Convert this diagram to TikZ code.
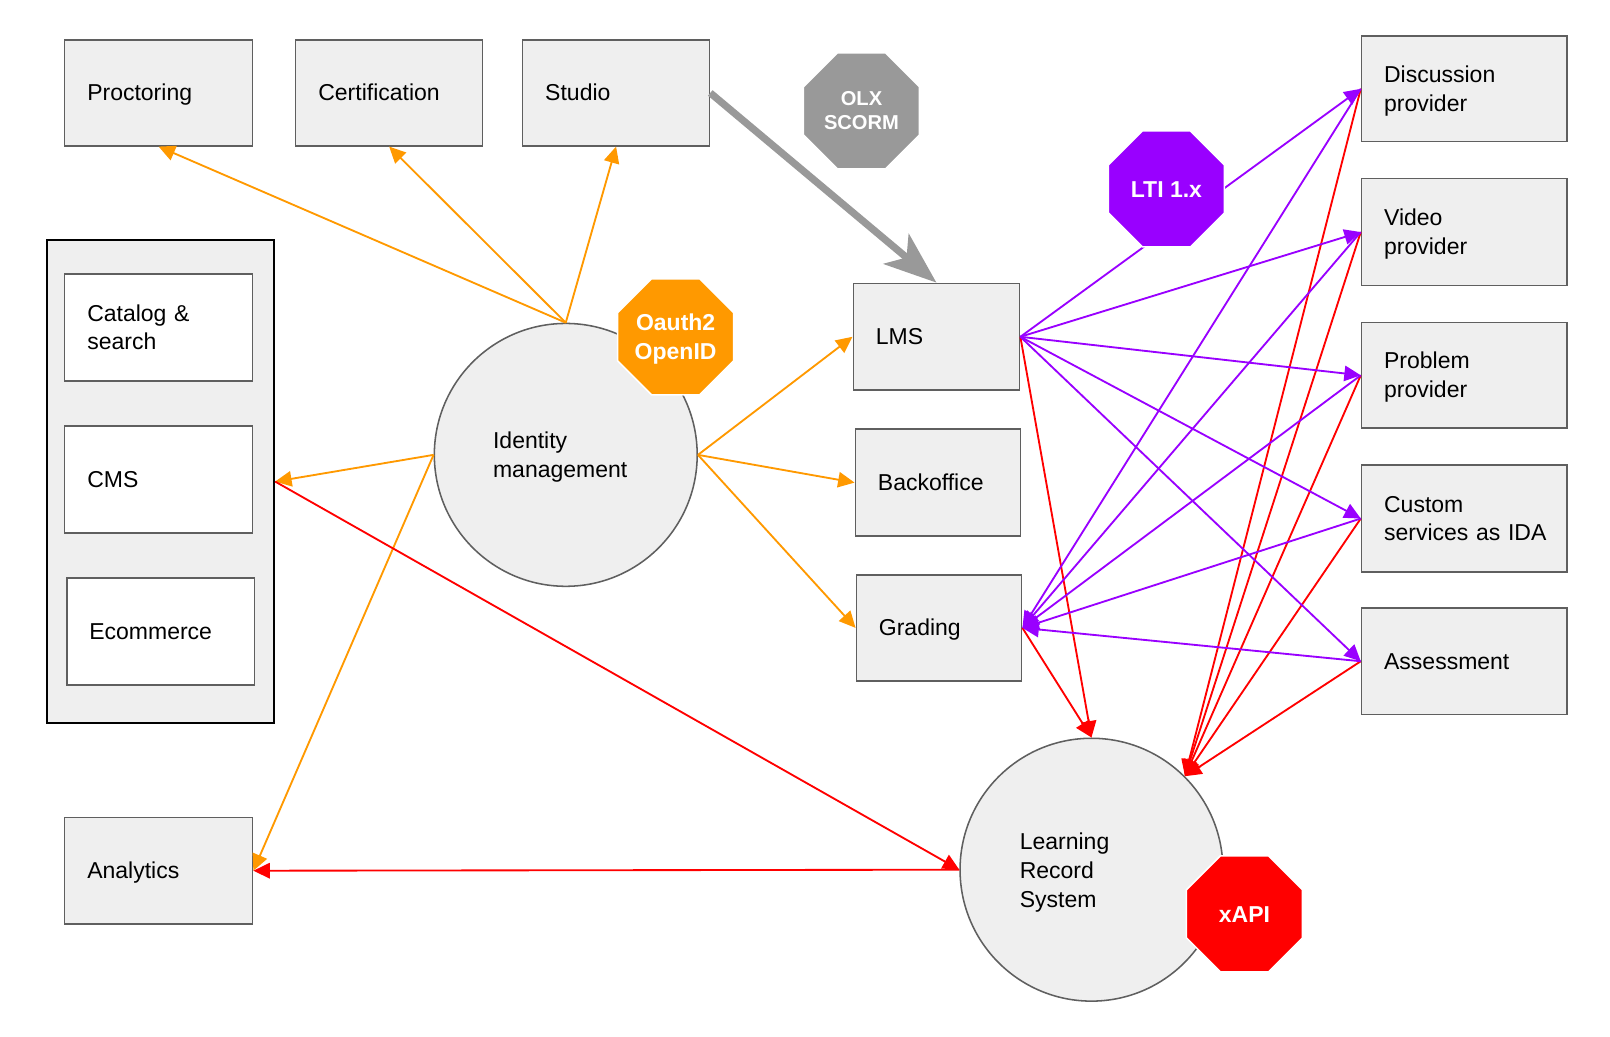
\documentclass[tikz,border=0pt]{standalone}
\usepackage{fontspec}
\setmainfont{Liberation Sans}
\usetikzlibrary{arrows.meta,shapes.geometric}
\definecolor{boxfill}{HTML}{EFEFEF}
\definecolor{bordergray}{HTML}{5F5F5F}
\definecolor{olxgray}{HTML}{999999}
\definecolor{lorange}{HTML}{FF9900}
\definecolor{lpurple}{HTML}{9900FF}
\definecolor{lred}{HTML}{FF0000}
\newcommand\diafont{\fontsize{22.4}{28}\selectfont}
\newcommand\octfont{\fontsize{22.4}{29}\selectfont\bfseries}
\newcommand\octsmall{\fontsize{19.6}{23}\selectfont\bfseries}
\newcommand\gs{\rule[-6.2pt]{0pt}{28pt}}
\newcommand\os{\rule[-6.4pt]{0pt}{29pt}}
\newcommand\oss{\rule[-5.1pt]{0pt}{23pt}}
\begin{document}
\begin{tikzpicture}[x=1pt,y=-1pt,
  box/.style={draw=bordergray, fill=boxfill, line width=1.5pt, inner xsep=22pt, inner ysep=0pt, align=left, font=\diafont},
  wbox/.style={box, fill=white},
  circ/.style={circle, draw=bordergray, fill=boxfill, line width=1.5pt, minimum size=256pt, inner sep=0pt},
  ctext/.style={anchor=west, align=left, inner sep=0pt, font=\diafont},
  oct/.style={regular polygon, regular polygon sides=8, minimum size=122.3pt, inner sep=0pt, draw=white, line width=1.5pt, text=white, align=center, font=\octfont},
  conn/.style={line width=1.8pt, -{Triangle[length=16pt,width=15pt]}},
  oar/.style={conn, draw=lorange, fill=lorange},
  par/.style={conn, draw=lpurple, fill=lpurple},
  rar/.style={conn, draw=lred, fill=lred},
  gar/.style={draw=olxgray, line width=7pt, -{Stealth[length=51pt,width=38pt,inset=13pt]}}
]
\useasboundingbox[fill=white] (0,0) rectangle (1568,1009);

% left container
\node[draw=black, fill=boxfill, line width=2pt, minimum width=221pt, minimum height=470pt, inner sep=0pt] (cont) at (156.5,469) {};
\node[wbox, minimum width=183pt, text width=139pt, minimum height=104pt] (cat) at (154.5,319) {\gs Catalog \&\\search\gs};
\node[wbox, minimum width=183pt, text width=139pt, minimum height=104pt] (cms) at (154.5,467) {\gs CMS};
\node[wbox, minimum width=183pt, text width=139pt, minimum height=104pt] (ecom) at (156.5,615) {\gs Ecommerce};

% top boxes
\node[box, minimum width=183pt, text width=139pt, minimum height=103pt] (proc) at (154.5,90.5) {\gs Proctoring};
\node[box, minimum width=182pt, text width=138pt, minimum height=103pt] (cert) at (379,90.5) {\gs Certification};
\node[box, minimum width=182pt, text width=138pt, minimum height=103pt] (studio) at (600,90.5) {\gs Studio};
\node[box, minimum width=183pt, text width=139pt, minimum height=104pt] (ana) at (154.5,848) {\gs Analytics};

% middle boxes
\node[box, minimum width=162pt, text width=118pt, minimum height=104pt] (lms) at (912,328) {\gs LMS};
\node[box, minimum width=161pt, text width=117pt, minimum height=104pt] (back) at (913.5,470) {\gs Backoffice};
\node[box, minimum width=161pt, text width=117pt, minimum height=103pt] (grad) at (914.5,611.5) {\gs Grading};

% right boxes
\node[box, minimum width=200pt, text width=156pt, minimum height=103pt] (disc) at (1426,86.5) {\gs Discussion\\provider\gs};
\node[box, minimum width=200pt, text width=156pt, minimum height=104pt] (video) at (1426,226) {\gs Video\\provider\gs};
\node[box, minimum width=200pt, text width=156pt, minimum height=103pt] (prob) at (1426,365.5) {\gs Problem\\provider\gs};
\node[box, minimum width=200pt, text width=156pt, minimum height=104pt] (cust) at (1426,505) {\gs Custom\\\mbox{services as IDA}\gs};
\node[box, minimum width=200pt, text width=156pt, minimum height=104pt] (assess) at (1426,644) {\gs Assessment};

% circles
\node[circ] (idm) at (551,443) {};
\node[ctext] (idmt) at (480,443) {\gs Identity\\management\gs};
\node[circ] (lrs) at (1063,847) {};
\node[ctext] (lrst) at (993,848) {\gs Learning\\Record\\System\gs};

% orange connectors
\draw[oar] (idm.north) -- (proc.south);
\draw[oar] (idm.north) -- (cert.south);
\draw[oar] (idm.north) -- (studio.south);
\draw[oar] (idm.west) -- (cont.east);
\draw[oar] (idm.west) -- (ana.east);
\draw[oar] (idm.east) -- (lms.west);
\draw[oar] (idm.east) -- (back.west);
\draw[oar] (idm.east) -- (grad.west);

% red connectors
\draw[rar] (cont.east) -- (lrs.west);
\draw[rar] (lrs.west) -- (ana.east);
\draw[rar] (lms.east) -- (lrs.north);
\draw[rar] (grad.east) -- (lrs.north);
\draw[rar] (disc.west) -- (lrs.45);
\draw[rar] (video.west) -- (lrs.45);
\draw[rar] (prob.west) -- (lrs.45);
\draw[rar] (cust.west) -- (lrs.45);
\draw[rar] (assess.west) -- (lrs.45);

% purple connectors
\draw[par] (lms.east) -- (disc.west);
\draw[par] (lms.east) -- (video.west);
\draw[par] (lms.east) -- (prob.west);
\draw[par] (lms.east) -- (cust.west);
\draw[par] (lms.east) -- (assess.west);
\draw[par] (disc.west) -- (grad.east);
\draw[par] (video.west) -- (grad.east);
\draw[par] (prob.west) -- (grad.east);
\draw[par] (cust.west) -- (grad.east);
\draw[par] (assess.west) -- (grad.east);

% gray thick arrow
\draw[gar] (studio.east) -- (lms.north);

% octagons
\node[oct, fill=olxgray, font=\octsmall] (olx) at (839,108) {\oss OLX\\SCORM\oss};
\node[oct, fill=lorange] (oauth) at (658,328) {\os Oauth2\\OpenID\os};
\node[oct, fill=lpurple] (lti) at (1136,184) {\os LTI 1.x};
\node[oct, fill=lred] (xapi) at (1212,890) {\os xAPI};
\end{tikzpicture}
\end{document}
